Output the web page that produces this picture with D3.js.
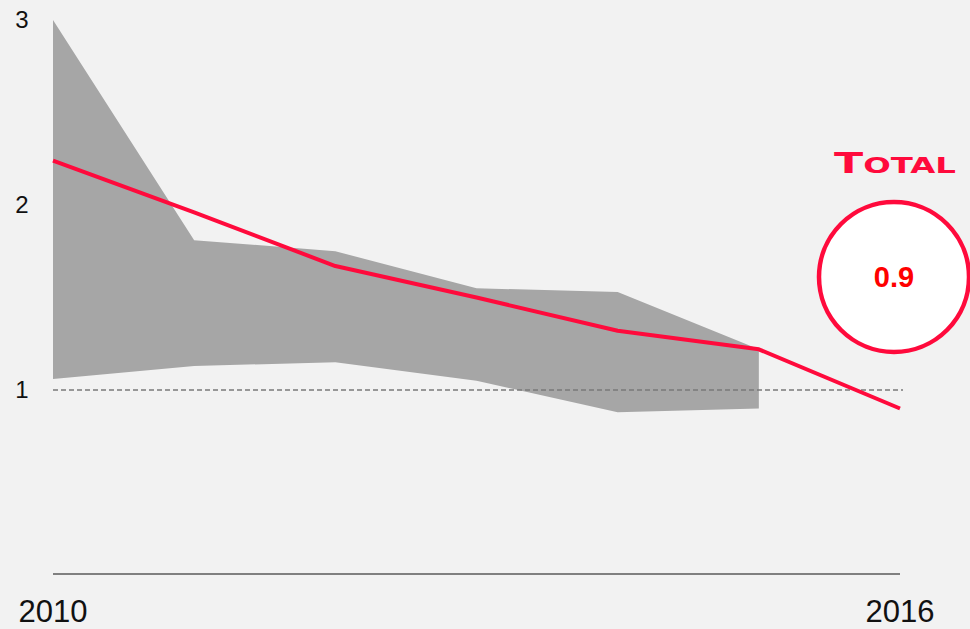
<!DOCTYPE html>
<html>
<head>
<meta charset="utf-8">
<script src="https://cdn.jsdelivr.net/npm/d3@7"></script>
<style>
  html, body { margin: 0; padding: 0; background: #f2f2f2; }
  svg { display: block; }
</style>
</head>
<body>
<script>
// Annual values, 2010–2016
const years = [2010, 2011, 2012, 2013, 2014, 2015, 2016];
const totalValues = [2.24, 1.96, 1.67, 1.50, 1.32, 1.22, 0.9];
// Peer range (2010–2015)
const rangeYears = [2010, 2011, 2012, 2013, 2014, 2015];
const rangeHigh = [3.0, 1.81, 1.75, 1.55, 1.53, 1.22];
const rangeLow = [1.06, 1.13, 1.15, 1.05, 0.88, 0.90];
const yTicks = [1, 2, 3];
const xTickLabels = [2010, 2016];
const referenceLevel = 1;
const latestLabel = "0.9";

const W = 970, H = 629;
const red = "#ff0a3c";

const svg = d3.select("body").append("svg")
  .attr("width", W).attr("height", H);

svg.append("rect").attr("width", W).attr("height", H).attr("fill", "#f2f2f2");

const x = d3.scaleLinear().domain([2010, 2016]).range([53, 900]);
const y = d3.scaleLinear().domain([0, 3]).range([575, 20]);

// Peer range band
const band = rangeYears.map((yr, i) => ({ yr, hi: rangeHigh[i], lo: rangeLow[i] }));
svg.append("path")
  .datum(band)
  .attr("fill", "#a6a6a6")
  .attr("d", d3.area().x(d => x(d.yr)).y0(d => y(d.lo)).y1(d => y(d.hi)));

// Reference line at 1
svg.append("line")
  .attr("x1", x(2010)).attr("x2", x(2016) + 3)
  .attr("y1", y(referenceLevel)).attr("y2", y(referenceLevel))
  .attr("stroke", "#7a7a7a").attr("stroke-width", 1.5)
  .attr("stroke-dasharray", "5,3");

// Baseline
svg.append("line")
  .attr("x1", x(2010)).attr("x2", x(2016))
  .attr("y1", y(0) - 1).attr("y2", y(0) - 1)
  .attr("stroke", "#808080").attr("stroke-width", 2);

// Company line
svg.append("path")
  .datum(years.map((yr, i) => ({ yr, v: totalValues[i] })))
  .attr("fill", "none")
  .attr("stroke", red)
  .attr("stroke-width", 4)
  .attr("stroke-linejoin", "round")
  .attr("d", d3.line().x(d => x(d.yr)).y(d => y(d.v)));

// Y tick labels
svg.selectAll("text.ytick").data(yTicks).enter().append("text")
  .attr("class", "ytick")
  .attr("x", 22).attr("y", d => y(d))
  .attr("dy", "0.35em")
  .attr("text-anchor", "middle")
  .attr("font-family", "Liberation Sans, Arial, sans-serif")
  .attr("font-size", 24)
  .attr("fill", "#111")
  .text(d => d);

// X tick labels
svg.selectAll("text.xtick").data(xTickLabels).enter().append("text")
  .attr("class", "xtick")
  .attr("x", d => x(d)).attr("y", 622)
  .attr("text-anchor", "middle")
  .attr("font-family", "Liberation Sans, Arial, sans-serif")
  .attr("font-size", 31)
  .attr("fill", "#111")
  .text(d => d);

// Brand mark
const logo = svg.append("text")
  .attr("x", 834).attr("y", 173)
  .attr("font-family", "DejaVu Sans, sans-serif")
  .attr("font-weight", "600")
  .attr("fill", red)
  .attr("textLength", 122)
  .attr("lengthAdjust", "spacingAndGlyphs");
logo.append("tspan").attr("font-size", 29).text("T");
logo.append("tspan").attr("font-size", 22).text("OTAL");

// Latest value bubble
const cx = 894, cy = 277;
svg.append("circle")
  .attr("cx", cx).attr("cy", cy).attr("r", 75)
  .attr("fill", "#ffffff")
  .attr("stroke", red).attr("stroke-width", 4.5);
svg.append("text")
  .attr("x", cx).attr("y", cy)
  .attr("dy", "0.35em")
  .attr("text-anchor", "middle")
  .attr("font-family", "Liberation Sans, Arial, sans-serif")
  .attr("font-weight", "bold")
  .attr("font-size", 29)
  .attr("fill", "#ff0000")
  .text(latestLabel);
</script>
</body>
</html>
